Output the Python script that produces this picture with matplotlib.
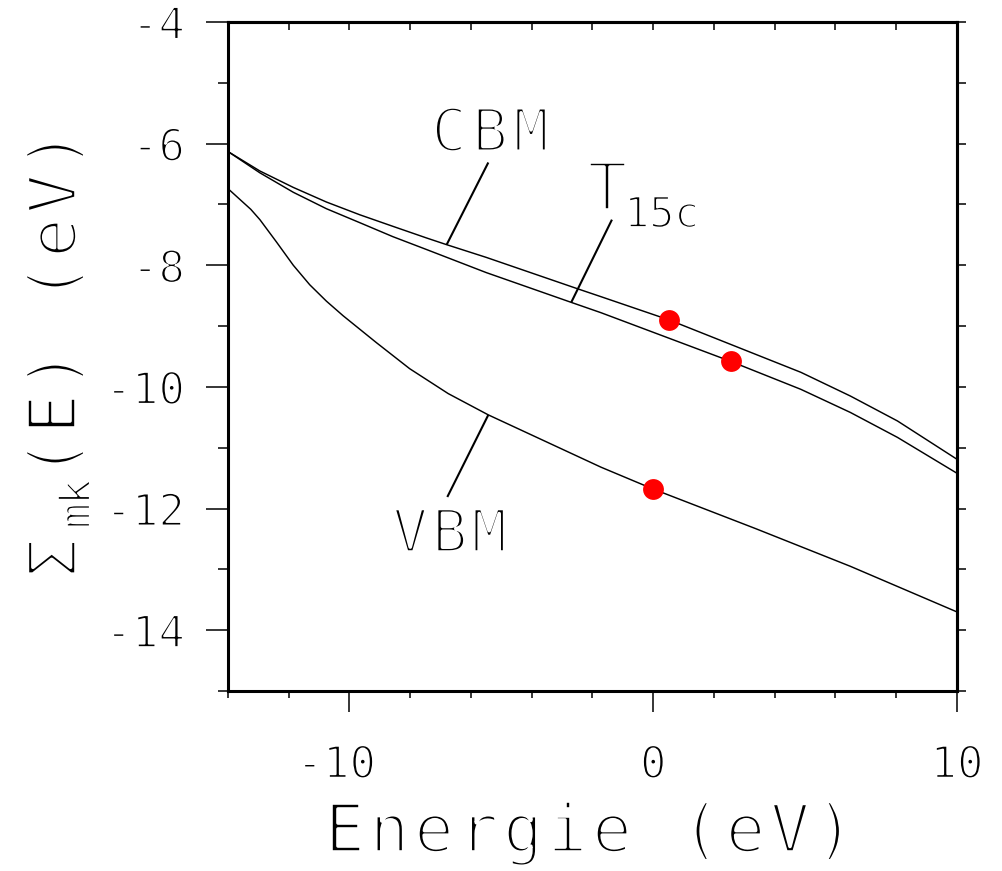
import numpy as np
import matplotlib
matplotlib.use("Agg")
import matplotlib.pyplot as plt
import matplotlib.patheffects as pe
from matplotlib import transforms
from matplotlib.ticker import FixedLocator

plt.rcParams["axes.unicode_minus"] = False

# Self-energy Sigma_mk(E) of three band states versus energy (eV)
energy_cbm = [-14.0, -12.95, -11.85, -10.76, -9.66, -8.57, -7.47, -6.81, -5.50,
              -2.47, -1.70, 0.53, 4.86, 6.49, 8.04, 10.0]
sigma_cbm = [-6.13, -6.45, -6.72, -6.96, -7.17, -7.36, -7.55, -7.66, -7.87,
             -8.39, -8.52, -8.90, -9.76, -10.15, -10.56, -11.19]

energy_t15c = [-14.0, -12.95, -11.85, -10.76, -9.66, -8.57, -7.47, -5.50,
               -2.70, -1.72, 2.55, 4.86, 6.49, 8.04, 10.0]
sigma_t15c = [-6.13, -6.48, -6.80, -7.07, -7.30, -7.53, -7.74, -8.12,
              -8.61, -8.78, -9.58, -10.04, -10.42, -10.83, -11.42]

energy_vbm = [-14.0, -13.25, -12.95, -12.40, -11.85, -11.31, -10.76, -10.21,
              -9.12, -8.02, -6.75, -5.43, -1.72, 0.0, 3.37, 6.49, 10.0]
sigma_vbm = [-6.74, -7.08, -7.25, -7.62, -8.00, -8.32, -8.59, -8.83,
             -9.27, -9.70, -10.11, -10.46, -11.32, -11.68, -12.33, -12.95, -13.70]

# Quasiparticle energies marked on each curve
qp_energy = [0.53, 2.55, 0.0]
qp_sigma = [-8.90, -9.58, -11.68]

x_major = [-10, 0, 10]
x_labels = ["-10 ", "0", "10"]
x_minor = [-14, -12, -8, -6, -4, -2, 2, 4, 6, 8]
x_top = [-12, -10, -8, -6, -4, -2, 0, 2, 4, 6, 8]
y_major = [-4, -6, -8, -10, -12, -14]
y_minor = [-5, -7, -9, -11, -13, -15]
y_right = list(range(-15, -3))

W, H, DPI = 1003, 871, 100
fig = plt.figure(figsize=(W / DPI, H / DPI), dpi=DPI)
ax = fig.add_axes([228 / W, 1 - 691 / H, 729 / W, 669 / H])

MONO = "DejaVu Sans Mono"


def thin(lw):
    return [pe.Stroke(linewidth=lw, foreground="white")]


def glyphs(x, y, text, size, pitch, transform, rotation=0, erode=2.6):
    """Draw text one glyph at a time on a fixed pitch (pixels)."""
    for i, ch in enumerate(text):
        if ch == " ":
            continue
        if rotation == 0:
            dx, dy = i * pitch, 0
        else:
            dx, dy = 0, i * pitch
        tr = transforms.offset_copy(transform, fig=fig, x=dx, y=dy, units="dots")
        fig.text(x, y, ch, transform=tr, fontsize=size, family=MONO,
                 ha="center", va="baseline", rotation=rotation,
                 rotation_mode="anchor", path_effects=thin(erode))


def fx(px):
    return px / W


def fy(py):
    return 1 - py / H


# curves
for e, s in [(energy_cbm, sigma_cbm), (energy_t15c, sigma_t15c), (energy_vbm, sigma_vbm)]:
    ax.plot(e, s, color="black", lw=1.05, solid_joinstyle="round")

ax.plot(qp_energy, qp_sigma, "o", color="#ff0000", ms=15, mec="none", zorder=5)

# leader lines from labels to curves
leaders = {
    "CBM": ([-6.80, -5.43], [-7.66, -6.31]),
    "T15c": ([-2.70, -1.36], [-8.61, -7.25]),
    "VBM": ([-5.43, -6.78], [-10.46, -11.81]),
}
for xs, ys in leaders.values():
    ax.plot(xs, ys, color="black", lw=1.5, solid_capstyle="butt")

ax.set_xlim(-14, 10)
ax.set_ylim(-15, -4)

for sp in ax.spines.values():
    sp.set_linewidth(2.2)

ax.xaxis.set_major_locator(FixedLocator(x_major))
ax.xaxis.set_minor_locator(FixedLocator(x_minor))
ax.yaxis.set_major_locator(FixedLocator(y_major))
ax.yaxis.set_minor_locator(FixedLocator(y_minor))
ax.set_xticklabels(x_labels)
ax.set_yticklabels([str(v) for v in y_major])

ax.tick_params(which="both", direction="out", width=1.1, top=False, right=False)
ax.tick_params(axis="x", which="major", length=15, pad=23)
ax.tick_params(axis="x", which="minor", length=5)
ax.tick_params(axis="y", which="major", length=16, pad=15)
ax.tick_params(axis="y", which="minor", length=7)
for lab in ax.get_xticklabels() + ax.get_yticklabels():
    lab.set_fontfamily(MONO)
    lab.set_fontsize(31.7)
    lab.set_path_effects(thin(1.5))

top = ax.secondary_xaxis("top")
top.xaxis.set_major_locator(FixedLocator(x_top))
top.tick_params(direction="in", length=6, width=1.1, labeltop=False)
top.spines["top"].set_linewidth(2.2)

right = ax.secondary_yaxis("right")
right.yaxis.set_major_locator(FixedLocator(y_right))
right.tick_params(direction="out", length=6.5, width=1.1, labelright=False)
right.spines["right"].set_linewidth(2.2)

# curve labels
glyphs(-6.72, -6.125, "CBM", 43, 41, ax.transData)
glyphs(-8.00, -12.715, "VBM", 43, 39.5, ax.transData)
glyphs(-1.52, -7.094, "T", 48, 0, ax.transData)
glyphs(-0.54, -7.374, "15c", 30.6, 25, ax.transData, erode=1.6)

# axis titles
glyphs(fx(345), fy(852), "Energie (eV)", 48, 44.5, fig.transFigure)
glyphs(fx(76), fy(558), "Σ", 48, 0, fig.transFigure, rotation=90)
glyphs(fx(90), fy(516), "mk", 30.6, 24, fig.transFigure, rotation=90, erode=1.6)
glyphs(fx(76), fy(458), "(E) (eV)", 48, 44, fig.transFigure, rotation=90)

fig.savefig("out.png", dpi=DPI)
